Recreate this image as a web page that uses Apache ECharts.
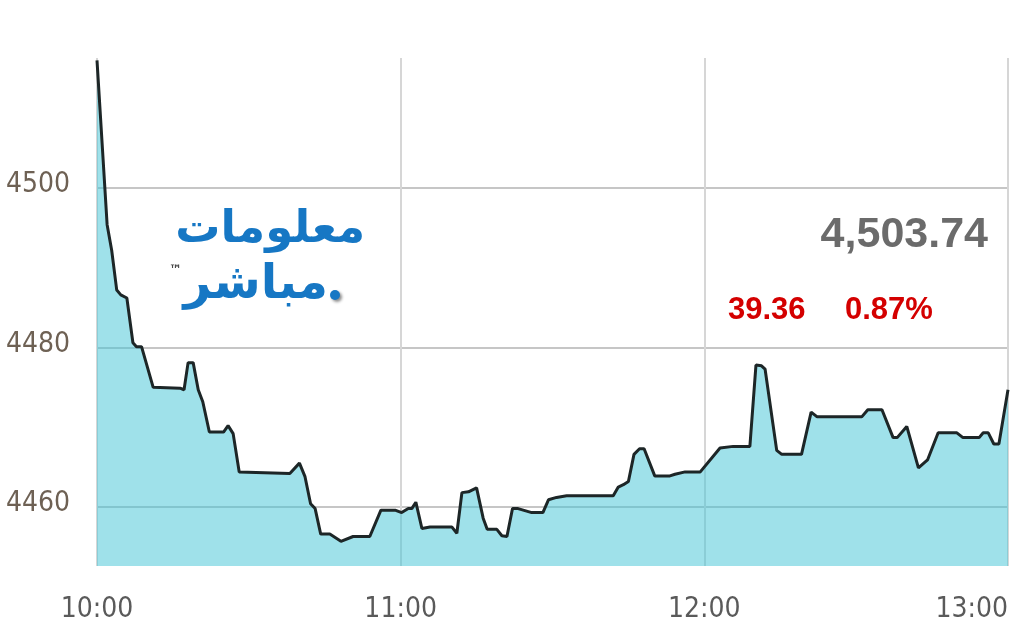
<!DOCTYPE html>
<html>
<head>
<meta charset="utf-8">
<title>مؤشر</title>
<script src="https://cdn.jsdelivr.net/npm/echarts@6/dist/echarts.min.js"></script>
<style>
  html, body { margin: 0; padding: 0; background: #fff; }
  #chart { width: 1024px; height: 640px; }
</style>
</head>
<body>
<div id="chart"></div>
<script>
// minutes after 10:00
var times = [0, 2, 2.9, 3.9, 4.7, 5.9, 7.1, 7.8, 8.8, 11.1, 16.4, 17.2, 18.0, 19.0, 20.0, 20.9,
  22.2, 25.0, 25.9, 26.9, 28.1, 38.1, 40.0, 41.1, 42.2, 43.1, 44.2, 46.0, 48.2, 50.6, 53.9,
  56.1, 58.9, 60.2, 61.5, 62.2, 63.0, 64.2, 65.8, 70.1, 71.1, 72.1, 73.4, 75.0, 76.3, 77.1,
  79.0, 80.0, 81.0, 82.1, 83.2, 85.9, 88.1, 89.2, 90.8, 92.8, 102.0, 103.0, 104.0, 105.0,
  106.1, 107.2, 108.1, 110.2, 113.2, 114.2, 116.2, 119.2, 123.1, 125.7, 129.0, 130.2, 131.3,
  132.0, 134.3, 135.3, 139.2, 141.1, 142.3, 151.1, 152.3, 155.1, 157.3, 158.1, 160.0, 162.3,
  164.1, 166.2, 169.9, 171.1, 174.3, 175.1, 176.1, 177.2, 178.2, 180];
var values = [4516.0, 4495.4, 4492.2, 4487.2, 4486.6, 4486.2, 4480.6, 4480.1, 4480.1, 4475.0,
  4474.9, 4474.7, 4478.1, 4478.1, 4474.7, 4473.2, 4469.4, 4469.4, 4470.2, 4469.2, 4464.4,
  4464.2, 4465.5, 4463.8, 4460.4, 4459.8, 4456.6, 4456.6, 4455.7, 4456.3, 4456.3, 4459.6,
  4459.6, 4459.3, 4459.8, 4459.8, 4460.6, 4457.3, 4457.5, 4457.5, 4456.7, 4461.8, 4461.9,
  4462.4, 4458.6, 4457.2, 4457.2, 4456.4, 4456.3, 4459.8, 4459.8, 4459.3, 4459.3, 4460.9,
  4461.2, 4461.4, 4461.4, 4462.5, 4462.8, 4463.2, 4466.6, 4467.3, 4467.3, 4463.9, 4463.9,
  4464.1, 4464.4, 4464.4, 4467.4, 4467.6, 4467.6, 4477.8, 4477.7, 4477.3, 4467.1, 4466.6,
  4466.6, 4471.9, 4471.3, 4471.3, 4472.2, 4472.2, 4468.7, 4468.7, 4470.1, 4464.9, 4465.9,
  4469.3, 4469.3, 4468.7, 4468.7, 4469.3, 4469.3, 4467.9, 4467.9, 4474.7];
var xTickLabels = ['10:00', '11:00', '12:00', '13:00'];
var yTicks = [4460, 4480, 4500];

var lastPrice = '4,503.74';
var change = '39.36';
var changePct = '0.87%';

var chart = echarts.init(document.getElementById('chart'));
var labelFont = "'Liberation Sans Narrow', 'DejaVu Sans Condensed', sans-serif";

chart.setOption({
  animation: false,
  grid: { left: 97, right: 16, top: 58, bottom: 74, outerBoundsMode: 'none', containLabel: false },
  xAxis: {
    type: 'value',
    min: 0,
    max: 180,
    interval: 60,
    axisLine: { show: false },
    axisTick: { show: false },
    axisLabel: {
      margin: 30,
      fontFamily: labelFont,
      fontSize: 28,
      color: '#5a5a5a',
      alignMaxLabel: 'right',
      formatter: function (v) { return xTickLabels[Math.round(v / 60)]; }
    },
    splitLine: { show: true, lineStyle: { color: '#d6d6d6', width: 2 } }
  },
  yAxis: {
    type: 'value',
    min: 4452.6,
    max: 4516.3,
    axisLine: { show: false },
    axisTick: { show: false, customValues: yTicks },
    axisLabel: {
      customValues: yTicks,
      margin: 27,
      fontFamily: labelFont,
      fontSize: 28,
      color: '#6e6154',
      verticalAlign: 'bottom',
      lineHeight: 30,
      padding: [0, 0, -12, 0],
      formatter: function (v) { return String(v); }
    },
    splitLine: { show: true, lineStyle: { color: '#c6c6c6', width: 2 } }
  },
  series: [{
    type: 'line',
    data: times.map(function (t, i) { return [t, values[i]]; }),
    symbol: 'none',
    lineStyle: { color: '#1d2627', width: 3 },
    areaStyle: { color: 'rgba(63,195,213,0.5)', opacity: 1, origin: 'start' },
    z: 1
  }],
  graphic: [
    {
      type: 'text', x: 988, y: 235,
      style: {
        text: lastPrice, textAlign: 'right', textVerticalAlign: 'middle',
        font: "bold 43px 'Liberation Sans', Arial, sans-serif", fill: '#6b6b6b'
      }
    },
    {
      type: 'text', x: 728, y: 310,
      style: {
        text: change, textAlign: 'left', textVerticalAlign: 'middle',
        font: "bold 31px 'Liberation Sans', Arial, sans-serif", fill: '#d40000'
      }
    },
    {
      type: 'text', x: 845, y: 310,
      style: {
        text: changePct, textAlign: 'left', textVerticalAlign: 'middle',
        font: "bold 31px 'Liberation Sans', Arial, sans-serif", fill: '#d40000'
      }
    },
    // logo
    {
      type: 'text', x: 365, y: 230,
      style: {
        text: 'معلومات', textAlign: 'right', textVerticalAlign: 'middle',
        font: "bold 45px 'DejaVu Sans', sans-serif", fill: '#1677c4',
        shadowColor: 'rgba(0,0,0,0.45)', shadowBlur: 3, shadowOffsetX: 3, shadowOffsetY: 3
      }
    },
    {
      type: 'text', x: 328, y: 286,
      style: {
        text: 'مباشر', textAlign: 'right', textVerticalAlign: 'middle',
        font: "bold 48px 'DejaVu Sans', sans-serif", fill: '#1677c4',
        shadowColor: 'rgba(0,0,0,0.45)', shadowBlur: 3, shadowOffsetX: 3, shadowOffsetY: 3
      }
    },
    {
      type: 'circle', shape: { cx: 335, cy: 295, r: 5 },
      style: { fill: '#1677c4', shadowColor: 'rgba(0,0,0,0.45)', shadowBlur: 3, shadowOffsetX: 2, shadowOffsetY: 2 }
    },
    {
      type: 'text', x: 169, y: 271,
      style: {
        text: '™', textAlign: 'left', textVerticalAlign: 'middle',
        font: "bold 13px 'DejaVu Sans', sans-serif", fill: '#444'
      }
    }
  ]
});
</script>
</body>
</html>
